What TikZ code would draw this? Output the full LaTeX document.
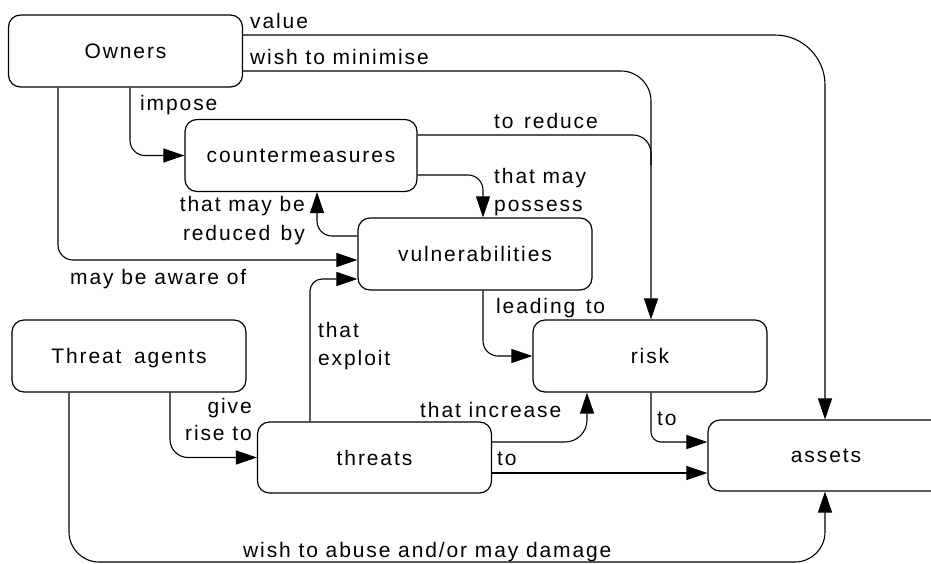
\documentclass[tikz,border=0pt]{standalone}
\usepackage{fontspec}
\setmainfont{Liberation Sans}[LetterSpace=9]
\usetikzlibrary{arrows.meta}
\begin{document}
\begin{tikzpicture}[x=1pt,y=-1pt,
  font=\fontsize{21}{23}\selectfont,
  box/.style={draw,line width=1.2pt,rounded corners=12pt,minimum width=234pt,minimum height=72pt,inner sep=0pt,text depth=0pt},
  link/.style={line width=1.1pt,rounded corners=15pt},
  arr/.style={link,-{Triangle[length=21pt,width=14pt]}},
  lbl/.style={anchor=base west,inner sep=0pt},
  lblr/.style={anchor=base east,inner sep=0pt}]
\useasboundingbox (0,0) rectangle (931,563);

% concepts
\node[box] (own)    at (125.5,51)  {Owners};
\node[box,minimum width=232pt] (cm) at (301,155.5) {countermeasures};
\node[box] (vul)    at (475,254)   {vulnerabilities};
\node[box] (ta)     at (129,356)   {Threat\hspace{0.6em}agents};
\node[box,minimum height=71pt] (thr) at (374.5,457.5) {threats};
\node[box] (risk)   at (650,356)   {risk};
\node[box,minimum width=236pt,minimum height=71pt] (assets) at (826,455.5) {assets};

% relations
\draw[arr,rounded corners=50pt] (own.east |- 0,35) -- (825,35) -- (assets.north -| 825,0);
\draw[arr,rounded corners=30pt] (own.east |- 0,71) -- (651,71) -- (risk.north -| 651,0);
\draw[link,rounded corners=18pt] (cm.east |- 0,135) -- (651,135) -- (651,165);
\draw[arr] (cm.east |- 0,175) -- (483,175) -- (vul.north -| 483,0);
\draw[arr] (own.south -| 130,0) -- (130,155.5) -- (cm.west);
\draw[arr] (own.south -| 58,0) -- (58,260) -- (vul.west |- 0,260);
\draw[arr] (vul.west |- 0,236) -- (317,236) -- (cm.south -| 317,0);
\draw[arr,rounded corners=12pt] (thr.north -| 310,0) -- (310,279) -- (vul.west |- 0,279);
\draw[arr,rounded corners=18pt] (ta.south -| 170,0) -- (170,457.5) -- (thr.west);
\draw[arr,rounded corners=30pt] (ta.south -| 69,0) -- (69,562) -- (825,562) -- (assets.south -| 825,0);
\draw[arr] (vul.south -| 483,0) -- (483,356) -- (risk.west);
\draw[arr,rounded corners=22pt] (thr.east |- 0,442) -- (587,442) -- (risk.south -| 587,0);
\draw[arr] (thr.east |- 0,473) -- (assets.west |- 0,473);
\draw[arr,rounded corners=10pt] (risk.south -| 651,0) -- (651,442) -- (assets.west |- 0,442);

% relation labels
\node[lbl] (l1)  at (250,28)  {value};
\node[lbl] (l2)  at (250,64)  {wish to minimise};
\node[lbl] (l3)  at (140,110) {impose};
\node[lbl] (l4)  at (494,128) {to\hspace{0.5em}reduce};
\node[lbl] (l5)  at (494,183) {that may};
\node[lbl] (l6)  at (494,211) {possess};
\node[lblr] (l7) at (305,211) {that may be};
\node[lblr] (l8) at (305,240) {reduced\hspace{0.5em}by};
\node[lbl] (l9)  at (70,284)  {may be aware of};
\node[lbl] (l10) at (496,313) {leading\hspace{0.5em}to};
\node[lbl] (l11) at (318,337) {that};
\node[lbl] (l12) at (318,365) {exploit};
\node[lblr] (l13) at (252,413) {give};
\node[lblr] (l14) at (252,440) {rise to};
\node[lbl] (l15) at (420,417) {that increase};
\node[lbl] (l16) at (497,465) {to};
\node[lbl] (l17) at (657,425) {to};
\node[lbl] (l18) at (243,557) {wish to abuse and/or may damage};
\end{tikzpicture}
\end{document}
